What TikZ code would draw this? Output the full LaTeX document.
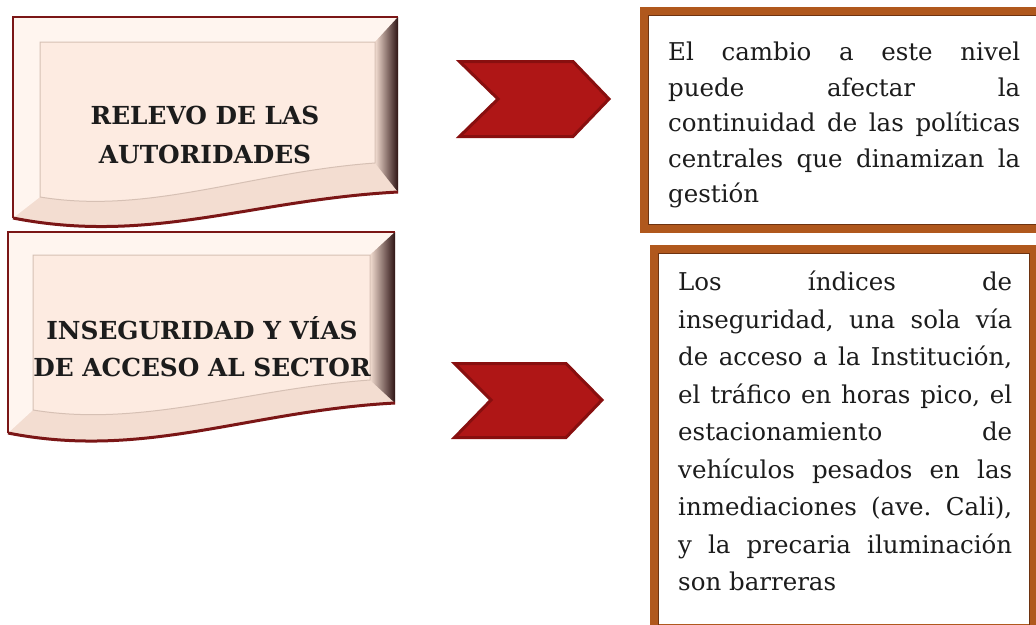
\documentclass[tikz,border=0pt]{standalone}
\usepackage{fontspec}
\setmainfont{DejaVu Serif}
\hbadness=10000
\frenchspacing
\definecolor{ink}{HTML}{1C1C1C}
\definecolor{bevel}{HTML}{F3DDD1}
\definecolor{bevellight}{HTML}{FFF5EF}
\definecolor{beveldark}{HTML}{2E1414}
\definecolor{waveedge}{HTML}{7B1616}
\definecolor{panel}{HTML}{FDEBE1}
\definecolor{panelline}{HTML}{D6C0B4}
\definecolor{chevfill}{HTML}{AF1616}
\definecolor{chevedge}{HTML}{880F0F}
\definecolor{noteedge}{HTML}{B0581D}
\definecolor{noteinner}{HTML}{6E3310}
\tikzset{
	chevron/.style={fill=chevfill, draw=chevedge, line width=3pt, line join=miter},
	notebox/.style={draw=noteedge, line width=8pt, fill=white},
	headtext/.style={font=\bfseries\fontsize{24.8}{39}\selectfont, align=center, text=ink},
	notetext/.style={anchor=north west, inner sep=0pt, align=justify, text=ink},
}
\begin{document}
\begin{tikzpicture}[x=1pt, y=-1pt]
	\clip (0,0) rectangle (1036,624);
	\fill[white] (0,0) rectangle (1036,624);
	\foreach \l/\t/\r/\br/\bl/\il/\it/\ir/\ibr/\ibl in {13/17/398/192/218/40/42/375/163/197, 8/232/395/403/433/33/255/370/380/410}{
		\fill[bevel] (\l,\t) -- (\r,\t) -- (\r,\br) .. controls ({\r-148},{\br+8}) and ({\l+137},{\bl+27}) .. (\l,\bl) -- cycle;
		\fill[bevellight] (\l,\t) -- (\r,\t) -- (\ir,\it) -- (\il,\it) -- (\il,\ibl) -- (\l,\bl) -- cycle;
		\shade[left color=bevel, right color=beveldark] (\ir,\it) -- (\r,\t) -- (\r,\br) -- (\ir,\ibr) -- cycle;
		\draw[waveedge, line width=3pt] (\r,\br) .. controls ({\r-148},{\br+8}) and ({\l+137},{\bl+27}) .. (\l,\bl);
		\draw[waveedge, line width=2pt] (\l,\bl) -- (\l,\t) -- (\r,\t);
		\draw[fill=panel, draw=panelline, line width=1pt] (\il,\it) -- (\ir,\it) -- (\ir,\ibr) .. controls ({\ir-125},{\ibr+9}) and ({\il+110},{\ibl+18}) .. (\il,\ibl) -- cycle;
	}
	\node[headtext] (relevo) at (205,135) {RELEVO DE LAS\\AUTORIDADES};
	\node[headtext, font=\bfseries\fontsize{24.8}{37}\selectfont] (inseguridad) at (202,347) {INSEGURIDAD Y VÍAS\\DE ACCESO AL SECTOR};
	\draw[chevron] (459.5,61.5) -- (573,61.5) -- (609,99) -- (573,136.5) -- (459.5,136.5) -- (498,99) -- cycle;
	\draw[chevron] (454.5,363.5) -- (566,363.5) -- (602,400) -- (566,437.5) -- (454.5,437.5) -- (491,400) -- cycle;
	\draw[notebox] (644,11) rectangle (1050,229);
	\draw[noteinner, line width=1pt] (648.5,15.5) rectangle (1050,224.5);
	\draw[notebox] (654,249) rectangle (1034,628);
	\draw[noteinner, line width=1pt] (658.5,253.5) rectangle (1029.5,628);
	\node[notetext, text width=352pt, font=\fontsize{24.5}{35.5}\selectfont] (cambio) at (668,42) {El cambio a este nivel\linebreak puede afectar la\linebreak continuidad de las políticas\linebreak centrales que dinamizan la\linebreak gestión};
	\node[notetext, text width=334pt, font=\fontsize{24.5}{37.5}\selectfont] (indices) at (678,271) {Los índices de\linebreak inseguridad, una sola vía\linebreak de acceso a la Institución,\linebreak el tráfico en horas pico, el\linebreak estacionamiento de\linebreak vehículos pesados en las\linebreak inmediaciones (ave. Cali),\linebreak y la precaria iluminación\linebreak son barreras};
\end{tikzpicture}
\end{document}
